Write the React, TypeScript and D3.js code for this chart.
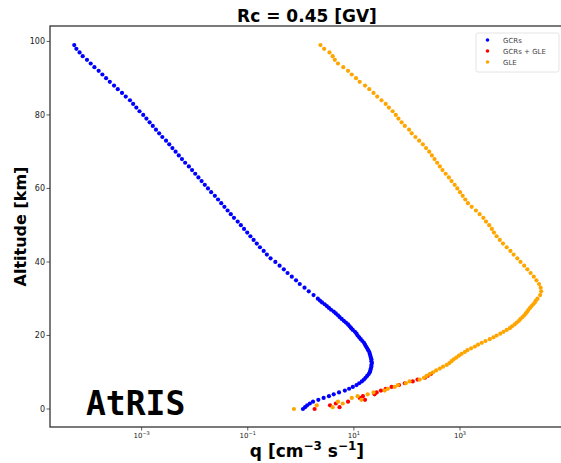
import React from "react";
import * as d3 from "d3";

// Altitude grid [km] (1 km steps above 30 km, 0.5 km steps below)
const altitudeGrid = [
  99, 98, 97, 96, 95, 94, 93, 92, 91, 90,
  89, 88, 87, 86, 85, 84, 83, 82, 81, 80,
  79, 78, 77, 76, 75, 74, 73, 72, 71, 70,
  69, 68, 67, 66, 65, 64, 63, 62, 61, 60,
  59, 58, 57, 56, 55, 54, 53, 52, 51, 50,
  49, 48, 47, 46, 45, 44, 43, 42, 41, 40,
  39, 38, 37, 36, 35, 34, 33, 32, 31,
  30, 29.5, 29, 28.5, 28, 27.5, 27, 26.5, 26, 25.5,
  25, 24.5, 24, 23.5, 23, 22.5, 22, 21.5, 21, 20.5,
  20, 19.5, 19, 18.5, 18, 17.5, 17, 16.5, 16, 15.5,
  15, 14.5, 14, 13.5, 13, 12.5, 12, 11.5, 11, 10.5,
  10, 9.5, 9, 8.5, 8, 7.5, 7, 6.5, 6, 5.5,
  5, 4.5, 4, 3.5, 3, 2.5, 2, 1.5, 1, 0.5,
  0,
];

// log10 of q [cm^-3 s^-1], GCRs
const gcrLog10Q = [
  -4.27, -4.23, -4.17, -4.11, -4.03, -3.96, -3.89, -3.81, -3.74, -3.67,
  -3.6, -3.52, -3.45, -3.37, -3.3, -3.22, -3.16, -3.1, -3.04, -2.97,
  -2.91, -2.85, -2.79, -2.73, -2.67, -2.61, -2.54, -2.48, -2.42, -2.36,
  -2.3, -2.24, -2.18, -2.11, -2.05, -1.99, -1.93, -1.87, -1.81, -1.75,
  -1.69, -1.62, -1.56, -1.5, -1.44, -1.38, -1.32, -1.26, -1.19, -1.13,
  -1.07, -1.01, -0.95, -0.89, -0.83, -0.77, -0.7, -0.64, -0.57, -0.48,
  -0.4, -0.32, -0.25, -0.17, -0.09, -0.02, 0.07, 0.15, 0.24,
  0.32, 0.36, 0.4, 0.45, 0.49, 0.53, 0.57, 0.62, 0.66, 0.7,
  0.73, 0.77, 0.81, 0.85, 0.89, 0.92, 0.95, 0.98, 1.02, 1.05,
  1.07, 1.1, 1.13, 1.16, 1.19, 1.21, 1.23, 1.25, 1.27, 1.29,
  1.3, 1.31, 1.32, 1.33, 1.33, 1.34, 1.33, 1.33, 1.32, 1.31,
  1.3, 1.28, 1.25, 1.22, 1.19, 1.15, 1.1, 1.05, 0.98, 0.91,
  0.83, 0.72, 0.62, 0.53, 0.43, 0.33, 0.23, 0.17, 0.12, 0.08,
  0.04,
];

// log10 of q, GLE
const gleLog10Q = [
  0.37, 0.44, 0.54, 0.6, 0.64, 0.7, 0.8, 0.89, 0.96, 1.04,
  1.11, 1.21, 1.29, 1.37, 1.44, 1.52, 1.6, 1.66, 1.73, 1.79,
  1.84, 1.9, 1.96, 2.04, 2.09, 2.16, 2.23, 2.3, 2.36, 2.42,
  2.47, 2.52, 2.57, 2.62, 2.67, 2.73, 2.79, 2.84, 2.9, 2.95,
  3.0, 3.05, 3.1, 3.15, 3.22, 3.3, 3.37, 3.44, 3.49, 3.55,
  3.6, 3.64, 3.69, 3.75, 3.81, 3.88, 3.95, 4.01, 4.08, 4.14,
  4.21, 4.27, 4.33, 4.39, 4.44, 4.49, 4.52, 4.53, 4.51,
  4.46, 4.43, 4.41, 4.38, 4.35, 4.32, 4.29, 4.27, 4.24, 4.21,
  4.18, 4.14, 4.11, 4.07, 4.03, 3.98, 3.94, 3.88, 3.82, 3.76,
  3.69, 3.63, 3.56, 3.48, 3.41, 3.34, 3.28, 3.21, 3.14, 3.09,
  3.03, 2.98, 2.93, 2.88, 2.84, 2.8, 2.75, 2.68, 2.62, 2.55,
  2.49, 2.43, 2.37, 2.32, 2.24, 2.05, 1.98, 1.83, 1.77, 1.64,
  1.58, 1.37, 1.26, 1.07, 0.96, 1.14, 0.7, 0.79, 0.3, 0.6,
  -0.13,
];

// GCRs + GLE (visible at low altitude)
const sumAltitude = [9.5, 9, 8.5, 8, 7.5, 7, 6.5, 6, 5.5, 5, 4.5, 4, 3.5, 3, 2.5, 2, 1.5, 1, 0.5, 0];
const sumLog10Q = [2.45, 2.39, 2.34, 2.2, 2.11, 1.96, 1.85, 1.71, 1.6, 1.51, 1.43, 1.39, 1.17, 1.11, 1.21, 0.89, 0.66, 0.55, 0.73, 0.26];

const yTicks = [0, 20, 40, 60, 80, 100];
const xTickExponents = [-3, -1, 1, 3];
const legendLabels = ["GCRs", "GCRs + GLE", "GLE"];
const seriesColors = ["#0000ff", "#ff0000", "#ffa500"];

const W = 561;
const H = 463;
const plot = { left: 50, top: 26, right: 564, bottom: 427 };

export default function App() {
  const x = d3
    .scaleLog()
    .domain([Math.pow(10, -4.727), Math.pow(10, 4.96)])
    .range([plot.left, plot.right]);
  const y = d3.scaleLinear().domain([-4.9, 104.2]).range([plot.bottom, plot.top]);

  const series = [
    { alt: altitudeGrid, logq: gcrLog10Q, color: seriesColors[0] },
    { alt: sumAltitude, logq: sumLog10Q, color: seriesColors[1] },
    { alt: altitudeGrid, logq: gleLog10Q, color: seriesColors[2] },
  ];

  const font = "DejaVu Sans, sans-serif";
  const axisColor = "#333";

  return (
    <svg
      width={W}
      height={H}
      style={{ position: "absolute", left: 0, top: 0, background: "#fff" }}
      fontFamily={font}
    >
      <rect x={0} y={0} width={W} height={H} fill="#fff" />
      <text x={307} y={22} textAnchor="middle" fontWeight="bold" fontSize={17} fill="#000">
        Rc = 0.45 [GV]
      </text>

      {/* data */}
      {series.map((s, si) => (
        <g key={si} fill={s.color}>
          {s.logq.map((v, i) => (
            <circle key={i} cx={x(Math.pow(10, v))} cy={y(s.alt[i])} r={2.1} />
          ))}
        </g>
      ))}

      {/* frame */}
      <rect
        x={plot.left}
        y={plot.top}
        width={plot.right - plot.left}
        height={plot.bottom - plot.top}
        fill="none"
        stroke={axisColor}
        strokeWidth={1.3}
      />

      {/* y ticks */}
      {yTicks.map((t) => (
        <g key={t}>
          <line x1={plot.left - 3.5} x2={plot.left} y1={y(t)} y2={y(t)} stroke={axisColor} strokeWidth={0.8} />
          <text x={plot.left - 5} y={y(t) + 2.8} textAnchor="end" fontSize={8} fill="#222">
            {t}
          </text>
        </g>
      ))}

      {/* x ticks */}
      {xTickExponents.map((e) => {
        const px = x(Math.pow(10, e));
        return (
          <g key={e}>
            <line x1={px} x2={px} y1={plot.bottom} y2={plot.bottom + 3.5} stroke={axisColor} strokeWidth={0.8} />
            <text x={px} y={plot.bottom + 11} textAnchor="middle" fontSize={7} fill="#222">
              10
              <tspan dy={-3} fontSize={5}>
                {e < 0 ? "\u2212" + Math.abs(e) : String(e)}
              </tspan>
            </text>
          </g>
        );
      })}

      {/* axis labels */}
      <text x={307} y={457} textAnchor="middle" fontWeight="bold" fontSize={17} fill="#000">
        q [cm
        <tspan dy={-7} fontSize={12}>
          {"\u22123"}
        </tspan>
        <tspan dy={7}> s</tspan>
        <tspan dy={-7} fontSize={12}>
          {"\u22121"}
        </tspan>
        <tspan dy={7}>]</tspan>
      </text>
      <text
        transform={`translate(26, ${(plot.top + plot.bottom) / 2}) rotate(-90)`}
        textAnchor="middle"
        fontWeight="bold"
        fontSize={16}
        fill="#000"
      >
        Altitude [km]
      </text>

      {/* legend */}
      <g>
        <rect x={476} y={33} width={83} height={39} rx={2} fill="#fff" stroke="#ddd" strokeWidth={0.8} />
        {legendLabels.map((l, i) => (
          <g key={l}>
            <circle cx={487.5} cy={40 + i * 11} r={1.8} fill={seriesColors[i]} />
            <text x={503} y={42.5 + i * 11} fontSize={7} fill="#444">
              {l}
            </text>
          </g>
        ))}
      </g>

      {/* watermark */}
      <text
        x={86}
        y={415}
        fontFamily="DejaVu Sans Mono, monospace"
        fontWeight="bold"
        fontSize={33}
        fill="#000"
      >
        AtRIS
      </text>
    </svg>
  );
}
